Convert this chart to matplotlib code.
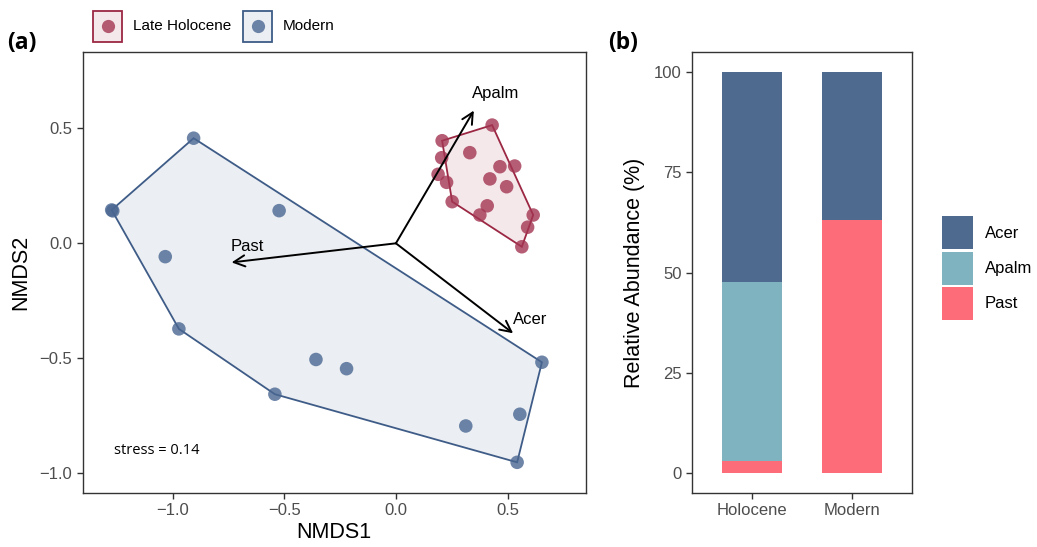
import numpy as np
import matplotlib
matplotlib.use('Agg')
import matplotlib.pyplot as plt
from matplotlib.patches import Polygon, Rectangle
from matplotlib.lines import Line2D

plt.rcParams['font.family'] = ['Liberation Sans', 'DejaVu Sans']

# NMDS site scores
holo_x = [0.431, 0.207, 0.331, 0.205, 0.466, 0.532, 0.189, 0.227,
          0.421, 0.496, 0.252, 0.409, 0.376, 0.615, 0.590, 0.564]
holo_y = [0.514, 0.446, 0.394, 0.372, 0.333, 0.336, 0.300, 0.265,
          0.280, 0.246, 0.181, 0.163, 0.123, 0.123, 0.070, -0.015]
mod_x = [-0.906, -1.273, -1.268, -0.523, -1.033, -0.972, -0.358,
         -0.221, -0.542, 0.654, 0.555, 0.313, 0.543]
mod_y = [0.457, 0.145, 0.141, 0.142, -0.058, -0.372, -0.505,
         -0.545, -0.656, -0.517, -0.743, -0.794, -0.952]
# hull vertices (indices into the site scores)
holo_hull = [1, 0, 13, 15, 10]
mod_hull = [0, 9, 12, 8, 5, 1]

# species vectors
species = ['Apalm', 'Past', 'Acer']
vec_x = [0.349, -0.736, 0.525]
vec_y = [0.577, -0.083, -0.391]
stress = 0.14

# relative abundance (%)
periods = ['Holocene', 'Modern']
past_pct = [3.0, 63.2]
apalm_pct = [44.6, 0.0]
acer_pct = [52.4, 36.8]

HOLO_EDGE = '#9B2743'
HOLO_PT = '#A33552'
MOD_EDGE = '#3E5C87'
MOD_PT = '#4A6792'
C_ACER = '#4F6A8F'
C_APALM = '#7FB3C0'
C_PAST = '#FC6D79'
TICK_C = '#4D4D4D'
FRAME_C = '#333333'


def style_axes(ax):
    for s in ax.spines.values():
        s.set_color(FRAME_C)
        s.set_linewidth(1.0)
    ax.tick_params(colors=FRAME_C, labelcolor=TICK_C, labelsize=12,
                   length=4, width=1.0)


fig = plt.figure(figsize=(10.37, 5.47), dpi=100)

# ---- (a) NMDS ----
ax1 = fig.add_axes([0.0797, 0.0993, 0.4853, 0.8062])
for xs, ys, idx, ec, pc in [(mod_x, mod_y, mod_hull, MOD_EDGE, MOD_PT),
                            (holo_x, holo_y, holo_hull, HOLO_EDGE, HOLO_PT)]:
    h = [(xs[i], ys[i]) for i in idx]
    ax1.add_patch(Polygon(h, closed=True, facecolor=ec, alpha=0.1,
                          edgecolor='none', zorder=1))
    ax1.add_patch(Polygon(h, closed=True, facecolor='none', edgecolor=ec,
                          linewidth=1.3, zorder=2))
    ax1.scatter(xs, ys, s=95, color=pc, alpha=0.8, edgecolors='none', zorder=3)

lab_off = {'Apalm': (0.10, 0.075), 'Past': (0.07, 0.067), 'Acer': (0.075, 0.06)}
for name, vx, vy in zip(species, vec_x, vec_y):
    ax1.annotate('', xy=(vx, vy), xytext=(0, 0),
                 arrowprops=dict(arrowstyle='->', color='black', lw=1.4,
                                 mutation_scale=20, shrinkA=0, shrinkB=0),
                 zorder=4)
    dx, dy = lab_off[name]
    ax1.text(vx + dx, vy + dy, name, fontsize=12, ha='center', va='center',
             zorder=5)

ax1.text(-1.262, -0.9, 'stress = %.2f' % stress, fontsize=10.5,
         family='Open Sans', ha='left', va='center')

ax1.set_xlim(-1.403, 0.851)
ax1.set_ylim(-1.084, 0.833)
ax1.set_xticks([-1.0, -0.5, 0.0, 0.5])
ax1.set_yticks([-1.0, -0.5, 0.0, 0.5])
ax1.set_xticklabels(['\u22121.0', '\u22120.5', '0.0', '0.5'])
ax1.set_yticklabels(['\u22121.0', '\u22120.5', '0.0', '0.5'])
ax1.set_xlabel('NMDS1', fontsize=15.5, labelpad=3)
ax1.set_ylabel('NMDS2', fontsize=15.5, labelpad=6)
style_axes(ax1)

# ---- (b) stacked bars ----
ax2 = fig.add_axes([0.6673, 0.0987, 0.2122, 0.8062])
pos = np.arange(1, len(periods) + 1)
ax2.bar(pos, past_pct, width=0.6, color=C_PAST)
ax2.bar(pos, apalm_pct, width=0.6, bottom=past_pct, color=C_APALM)
bot = np.array(past_pct) + np.array(apalm_pct)
ax2.bar(pos, acer_pct, width=0.6, bottom=bot, color=C_ACER)
ax2.set_xlim(0.4, 2.6)
ax2.set_ylim(-5, 105)
ax2.set_xticks(pos)
ax2.set_xticklabels(periods)
ax2.set_yticks([0, 25, 50, 75, 100])
ax2.set_ylabel('Relative Abundance (%)', fontsize=15.5, labelpad=6)
style_axes(ax2)

# right legend
W, H = 1037.0, 547.0
for i, (name, c) in enumerate(zip(['Acer', 'Apalm', 'Past'],
                                  [C_ACER, C_APALM, C_PAST])):
    y0 = 216 + i * 35.5
    fig.add_artist(Rectangle((942 / W, 1 - (y0 + 33) / H), 31 / W, 33 / H,
                             transform=fig.transFigure, facecolor=c,
                             edgecolor='none'))
    fig.text(985 / W, 1 - (y0 + 17) / H, name, fontsize=12, va='center')

# top legend
for x0, name, ec, pc in [(93, 'Late Holocene', HOLO_EDGE, HOLO_PT),
                         (243, 'Modern', MOD_EDGE, MOD_PT)]:
    fig.add_artist(Rectangle((x0 / W, 1 - 41.5 / H), 29 / W, 31 / H,
                             transform=fig.transFigure, facecolor=ec,
                             alpha=0.1, edgecolor='none'))
    fig.add_artist(Rectangle((x0 / W, 1 - 41.5 / H), 29 / W, 31 / H,
                             transform=fig.transFigure, facecolor='none',
                             edgecolor=ec, linewidth=1.3))
    fig.add_artist(Line2D([(x0 + 14.5) / W], [1 - 26 / H], marker='o',
                          markersize=9.5, color=pc, alpha=0.8,
                          markeredgewidth=0, transform=fig.transFigure))
    fig.text((x0 + 40) / W, 1 - 26 / H, name, fontsize=11, va='center')

fig.text(7 / W, 1 - 43 / H, '(a)', fontsize=16.5, fontweight='bold',
         family='Open Sans', va='center')
fig.text(608 / W, 1 - 43 / H, '(b)', fontsize=16.5, fontweight='bold',
         family='Open Sans', va='center')

fig.savefig('out.png', dpi=100)
